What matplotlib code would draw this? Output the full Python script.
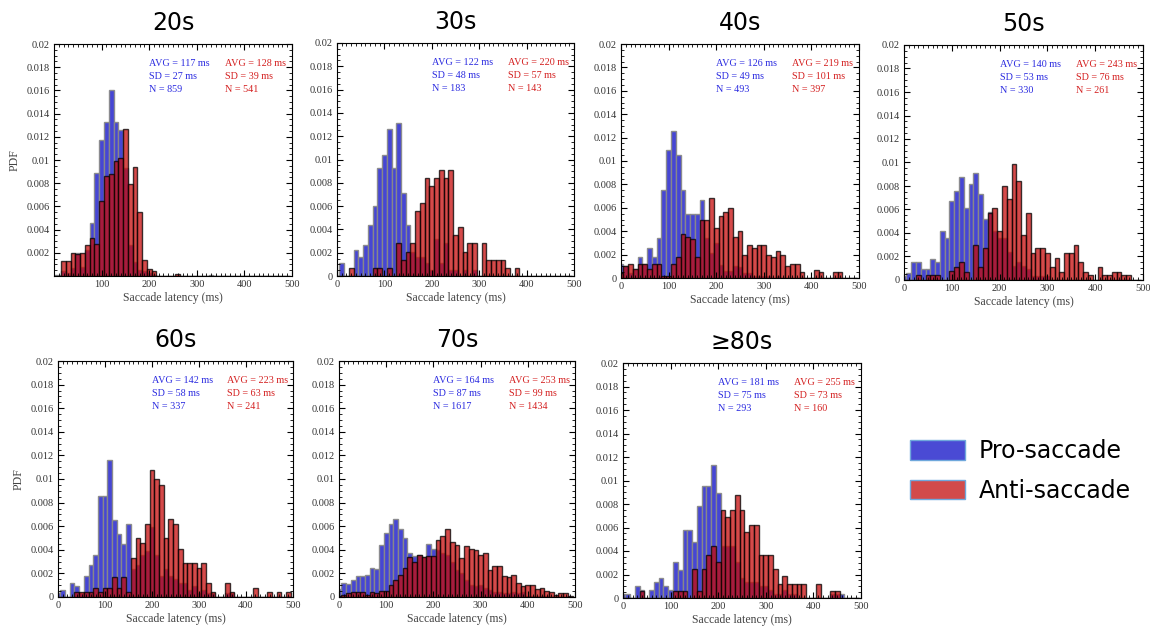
import numpy as np
import matplotlib
matplotlib.use("Agg")
import matplotlib.pyplot as plt
from matplotlib.patches import Patch
from matplotlib.ticker import MultipleLocator, FuncFormatter

# bin centres (ms), 10 ms bins
latency = np.arange(0, 500, 10)

pro_20s = [0.0001, 0.0001, 0.0004, 0.0003, 0.0007, 0.0020, 0.0008, 0.0022, 0.0046, 0.0089,
           0.0117, 0.0133, 0.0160, 0.0133, 0.0126, 0.0093, 0.0027, 0.0012, 0.0005, 0.0004,
           0.0003, 0.0001, 0, 0, 0, 0, 0, 0, 0, 0,
           0, 0, 0, 0.0001, 0, 0, 0, 0, 0, 0,
           0, 0, 0, 0, 0, 0, 0, 0, 0, 0]
anti_20s = [0, 0, 0.0013, 0.0013, 0.0020, 0.0019, 0.0020, 0.0027, 0.0033, 0.0028,
            0.0065, 0.0086, 0.0088, 0.0099, 0.0102, 0.0127, 0.0079, 0.0094, 0.0055, 0.0014,
            0.0006, 0.0004, 0, 0, 0, 0, 0.0002, 0, 0, 0,
            0, 0, 0, 0, 0, 0, 0, 0, 0, 0,
            0, 0, 0, 0, 0, 0, 0, 0, 0, 0]

pro_30s = [0, 0.0011, 0, 0, 0.0022, 0.0016, 0.0027, 0.0044, 0.0060, 0.0093,
           0.0104, 0.0126, 0.0093, 0.0131, 0.0071, 0.0044, 0.0021, 0.0016, 0.0016, 0.0011,
           0.0005, 0.0032, 0.0011, 0.0028, 0.0005, 0.0005, 0, 0.0005, 0, 0.0005,
           0, 0, 0, 0, 0, 0, 0, 0, 0, 0,
           0, 0, 0, 0, 0, 0, 0, 0, 0, 0]
anti_30s = [0, 0, 0, 0.0007, 0, 0, 0, 0, 0.0007, 0.0007,
            0, 0.0007, 0, 0.0028, 0.0014, 0.0021, 0.0028, 0.0056, 0.0063, 0.0084,
            0.0077, 0.0084, 0.0091, 0.0084, 0.0091, 0.0035, 0.0042, 0.0021, 0.0028, 0.0028,
            0, 0.0028, 0.0014, 0.0014, 0.0014, 0.0014, 0.0007, 0, 0.0007, 0,
            0, 0, 0, 0, 0, 0, 0, 0, 0, 0]

pro_40s = [0.0012, 0.0010, 0.0004, 0.0008, 0.0018, 0.0012, 0.0026, 0.0018, 0.0034, 0.0075,
           0.0109, 0.0126, 0.0105, 0.0075, 0.0055, 0.0055, 0.0055, 0.0067, 0.0034, 0.0021,
           0.0030, 0.0011, 0.0006, 0.0006, 0.0010, 0.0009, 0.0004, 0.0004, 0.0002, 0.0002,
           0.0002, 0.0002, 0, 0.0002, 0, 0, 0, 0, 0, 0,
           0, 0, 0, 0, 0, 0, 0, 0, 0, 0]
anti_40s = [0.0004, 0.0010, 0.0012, 0.0008, 0.0012, 0.0012, 0.0008, 0.0012, 0.0012, 0.0002,
            0.0002, 0.0012, 0.0018, 0.0038, 0.0035, 0.0033, 0.0018, 0.0050, 0.0050, 0.0068,
            0.0043, 0.0053, 0.0056, 0.0060, 0.0035, 0.0040, 0.0020, 0.0028, 0.0026, 0.0028,
            0.0028, 0.0020, 0.0018, 0.0023, 0.0020, 0.0010, 0.0012, 0.0012, 0.0005, 0,
            0, 0.0007, 0.0005, 0, 0, 0.0005, 0.0005, 0, 0, 0]

pro_50s = [0.0003, 0.0006, 0.0015, 0.0015, 0.0009, 0.0009, 0.0018, 0.0015, 0.0042, 0.0036,
           0.0067, 0.0076, 0.0088, 0.0061, 0.0082, 0.0091, 0.0073, 0.0052, 0.0058, 0.0042,
           0.0036, 0.0036, 0.0024, 0.0012, 0.0015, 0.0012, 0.0009, 0.0003, 0.0003, 0.0003,
           0.0003, 0, 0, 0, 0, 0, 0, 0, 0, 0,
           0, 0, 0, 0, 0, 0, 0, 0, 0, 0]
anti_50s = [0, 0, 0, 0.0004, 0, 0.0004, 0.0004, 0.0004, 0, 0,
            0.0008, 0.0011, 0.0015, 0.0007, 0, 0.0030, 0.0011, 0.0027, 0.0057, 0.0061,
            0.0042, 0.0080, 0.0069, 0.0099, 0.0084, 0.0038, 0.0057, 0.0023, 0.0027, 0.0027,
            0.0023, 0.0011, 0.0019, 0.0007, 0.0023, 0.0023, 0.0030, 0.0015, 0.0007, 0.0004,
            0, 0.0011, 0.0004, 0.0004, 0.0007, 0.0007, 0.0004, 0.0004, 0, 0]

pro_60s = [0.0003, 0.0006, 0, 0.0012, 0.0009, 0.0003, 0.0018, 0.0027, 0.0036, 0.0086,
           0.0086, 0.0116, 0.0065, 0.0053, 0.0045, 0.0062, 0.0024, 0.0027, 0.0036, 0.0039,
           0.0059, 0.0036, 0.0018, 0.0024, 0.0018, 0.0015, 0.0012, 0.0012, 0.0006, 0.0009,
           0.0003, 0.0006, 0.0003, 0.0003, 0, 0, 0.0003, 0.0003, 0, 0,
           0, 0, 0, 0, 0, 0, 0, 0, 0, 0]
anti_60s = [0, 0, 0, 0, 0.0004, 0.0004, 0.0004, 0.0004, 0.0008, 0.0004,
            0.0008, 0.0008, 0.0017, 0.0008, 0.0017, 0.0004, 0.0033, 0.0050, 0.0046, 0.0062,
            0.0108, 0.0100, 0.0095, 0.0050, 0.0066, 0.0062, 0.0041, 0.0029, 0.0029, 0.0029,
            0.0025, 0.0029, 0.0012, 0.0004, 0, 0, 0.0012, 0.0004, 0, 0,
            0, 0, 0.0008, 0, 0, 0.0004, 0, 0.0004, 0, 0.0004]

pro_70s = [0.0007, 0.0012, 0.0011, 0.0014, 0.0018, 0.0018, 0.0019, 0.0025, 0.0024, 0.0044,
           0.0054, 0.0062, 0.0066, 0.0058, 0.0050, 0.0037, 0.0035, 0.0036, 0.0034, 0.0045,
           0.0041, 0.0040, 0.0037, 0.0036, 0.0030, 0.0023, 0.0020, 0.0014, 0.0010, 0.0009,
           0.0010, 0.0008, 0.0006, 0.0004, 0.0004, 0.0003, 0.0003, 0.0004, 0.0003, 0.0004,
           0.0001, 0.0001, 0.0001, 0.0001, 0.0001, 0, 0, 0, 0, 0]
anti_70s = [0.0001, 0.0002, 0.0003, 0.0004, 0.0004, 0.0004, 0.0002, 0.0004, 0.0003, 0.0005,
            0.0005, 0.0010, 0.0014, 0.0019, 0.0025, 0.0034, 0.0030, 0.0036, 0.0034, 0.0035,
            0.0035, 0.0048, 0.0052, 0.0058, 0.0047, 0.0044, 0.0033, 0.0043, 0.0041, 0.0040,
            0.0036, 0.0037, 0.0023, 0.0026, 0.0026, 0.0018, 0.0017, 0.0019, 0.0012, 0.0009,
            0.0010, 0.0010, 0.0007, 0.0008, 0.0005, 0.0004, 0.0002, 0.0003, 0.0003, 0.0001]

pro_80s = [0.0003, 0.0003, 0, 0.0010, 0.0007, 0, 0.0007, 0.0014, 0.0017, 0.0010,
           0.0007, 0.0031, 0.0024, 0.0058, 0.0058, 0.0048, 0.0078, 0.0095, 0.0095, 0.0113,
           0.0089, 0.0044, 0.0044, 0.0044, 0.0031, 0.0017, 0.0014, 0.0014, 0.0014, 0.0010,
           0.0010, 0.0007, 0.0003, 0.0003, 0.0007, 0.0003, 0.0003, 0, 0, 0,
           0, 0, 0, 0, 0.0003, 0.0003, 0.0003, 0, 0, 0]
anti_80s = [0, 0, 0, 0, 0.0006, 0, 0, 0, 0, 0,
            0, 0.0006, 0.0006, 0.0006, 0, 0.0025, 0.0006, 0.0025, 0.0037, 0.0044,
            0.0031, 0.0075, 0.0069, 0.0075, 0.0088, 0.0075, 0.0056, 0.0062, 0.0062, 0.0037,
            0.0037, 0.0037, 0.0025, 0.0012, 0.0019, 0.0012, 0.0012, 0.0012, 0.0012, 0,
            0, 0.0012, 0, 0, 0.0006, 0.0006, 0, 0, 0, 0]

titles = ["20s", "30s", "40s", "50s", "60s", "70s", "\u226580s"]
pro_data = [pro_20s, pro_30s, pro_40s, pro_50s, pro_60s, pro_70s, pro_80s]
anti_data = [anti_20s, anti_30s, anti_40s, anti_50s, anti_60s, anti_70s, anti_80s]
pro_stats = [(117, 27, 859), (122, 48, 183), (126, 49, 493), (140, 53, 330),
             (142, 58, 337), (164, 87, 1617), (181, 75, 293)]
anti_stats = [(128, 39, 541), (220, 57, 143), (219, 101, 397), (243, 76, 261),
              (223, 63, 241), (253, 99, 1434), (255, 73, 160)]

# axes boxes in pixels: left, top, right, bottom
boxes = [(54, 44, 292, 276), (337, 43, 574, 276), (621, 44, 859, 278),
         (904, 45, 1143, 280), (58, 361, 293, 597), (339, 361, 575, 597),
         (623, 363, 861, 598)]

W, H = 1150, 632
fig = plt.figure(figsize=(W / 100, H / 100), dpi=100)

blue = "#3c3cd2"
red = "#c80d0d"
serif = "Liberation Serif"

for i in range(7):
    l, t, r, b = boxes[i]
    ax = fig.add_axes([l / W, 1 - b / H, (r - l) / W, (b - t) / H])
    ax.bar(latency, pro_data[i], width=10, color=blue, alpha=0.95,
           edgecolor="#8a8a8a", linewidth=1.0)
    ax.bar(latency, anti_data[i], width=10, color=red, alpha=0.75,
           edgecolor="black", linewidth=1.0)
    ax.set_xlim(0, 500)
    ax.set_ylim(0, 0.02)
    ax.xaxis.set_major_locator(MultipleLocator(100))
    ax.xaxis.set_minor_locator(MultipleLocator(10))
    ax.yaxis.set_major_locator(MultipleLocator(0.002))
    ax.yaxis.set_minor_locator(MultipleLocator(0.0005))
    ax.yaxis.set_major_formatter(FuncFormatter(lambda v, p: "%g" % round(v, 4)))
    if i == 0:
        ax.set_xticks([100, 200, 300, 400, 500])
        ax.set_yticks(np.arange(0.002, 0.0201, 0.002))
    ax.tick_params(which="both", direction="in", top=True, right=True,
                   labelsize=7.5, labelcolor="#333333", pad=3)
    ax.tick_params(which="major", length=4)
    ax.tick_params(which="minor", length=2)
    for tl in ax.get_xticklabels() + ax.get_yticklabels():
        tl.set_fontfamily(serif)
    ax.set_xlabel("Saccade latency (ms)", fontsize=8.5, family=serif,
                  color="#444444", labelpad=2)
    if i in (0, 4):
        ax.set_ylabel("PDF", fontsize=8.5, family=serif, color="#444444",
                      labelpad=4)
    ax.set_title(titles[i], fontsize=17, pad=10, family="DejaVu Sans")

    p_avg, p_sd, p_n = pro_stats[i]
    a_avg, a_sd, a_n = anti_stats[i]
    p_lines = ["AVG = %d ms" % p_avg, "SD = %d ms" % p_sd, "N = %d" % p_n]
    a_lines = ["AVG = %d ms" % a_avg, "SD = %d ms" % a_sd, "N = %d" % a_n]
    for k in range(3):
        y = 0.918 - 0.056 * k
        ax.text(0.40, y, p_lines[k], transform=ax.transAxes, color="#2b2be0",
                fontsize=7.3, family=serif, va="center")
        ax.text(0.72, y, a_lines[k], transform=ax.transAxes, color="#d42020",
                fontsize=7.3, family=serif, va="center")

handles = [Patch(facecolor="#4a4ad4", edgecolor="#6fa8dc", linewidth=1),
           Patch(facecolor="#d24a4a", edgecolor="#6fa8dc", linewidth=1)]
fig.legend(handles, ["Pro-saccade", "Anti-saccade"], loc="center left",
           bbox_to_anchor=(889 / W, 1 - 471 / H), frameon=False, fontsize=17,
           handlelength=2.3, handleheight=0.9, labelspacing=0.65,
           handletextpad=0.6)

fig.savefig("out.png", dpi=100)
